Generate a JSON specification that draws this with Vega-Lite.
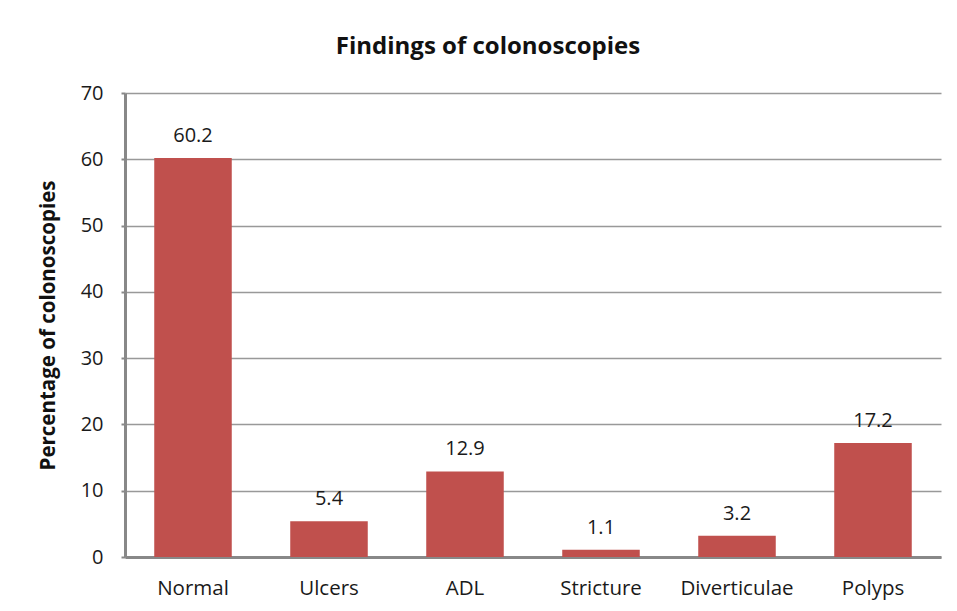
{
  "$schema": "https://vega.github.io/schema/vega-lite/v6.json",
  "autosize": "none",
  "width": 816,
  "height": 464,
  "padding": {"left": 125, "top": 93, "right": 16, "bottom": 54},
  "background": "white",
  "title": {
    "text": "Findings of colonoscopies",
    "fontSize": 24,
    "fontWeight": "bold",
    "font": "Open Sans",
    "color": "#111111",
    "anchor": "middle",
    "dx": -45,
    "offset": 24
  },
  "data": {
    "values": [
      {"finding": "Normal", "pct": 60.2},
      {"finding": "Ulcers", "pct": 5.4},
      {"finding": "ADL", "pct": 12.9},
      {"finding": "Stricture", "pct": 1.1},
      {"finding": "Diverticulae", "pct": 3.2},
      {"finding": "Polyps", "pct": 17.2}
    ]
  },
  "encoding": {
    "x": {
      "field": "finding",
      "type": "nominal",
      "sort": null,
      "scale": {"paddingInner": 0.43, "paddingOuter": 0.215},
      "axis": {
        "title": null,
        "labelAngle": 0,
        "labelFont": "Open Sans",
        "labelFontSize": 20.5,
        "labelColor": "#1a1a1a",
        "labelPadding": 21,
        "ticks": false,
        "domainColor": "#888888",
        "domainWidth": 3
      }
    },
    "y": {
      "field": "pct",
      "type": "quantitative",
      "scale": {"domain": [0, 70], "nice": false},
      "axis": {
        "values": [0, 10, 20, 30, 40, 50, 60, 70],
        "title": "Percentage of colonoscopies",
        "titleFont": "Open Sans",
        "titleFontSize": 20.5,
        "titleFontWeight": "bold",
        "titleColor": "#111111",
        "titlePadding": 22,
        "labelFont": "Open Sans",
        "labelFontSize": 20,
        "labelColor": "#1a1a1a",
        "labelPadding": 18,
        "tickSize": 4,
        "tickColor": "#888888",
        "tickWidth": 2,
        "domainColor": "#888888",
        "domainWidth": 3,
        "grid": true,
        "gridColor": "#999999",
        "gridWidth": 1.5
      }
    }
  },
  "layer": [
    {"mark": {"type": "bar", "color": "#C0504D"}},
    {
      "mark": {
        "type": "text",
        "baseline": "bottom",
        "dy": -12,
        "font": "Open Sans",
        "fontSize": 20,
        "color": "#1a1a1a"
      },
      "encoding": {"text": {"field": "pct", "type": "quantitative", "format": ".1f"}}
    }
  ],
  "config": {"view": {"stroke": null}}
}
